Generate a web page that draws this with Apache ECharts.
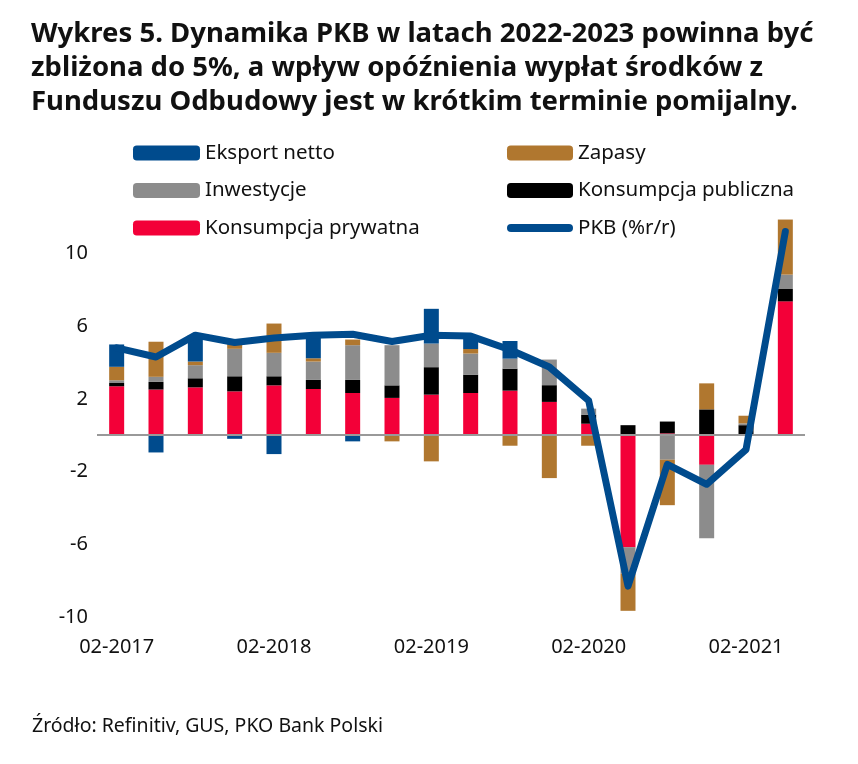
<!DOCTYPE html>
<html>
<head>
<meta charset="utf-8">
<script src="https://cdn.jsdelivr.net/npm/echarts@6/dist/echarts.min.js"></script>
<style>
  html, body { margin: 0; padding: 0; background: #fff; }
  #chart { width: 858px; height: 764px; }
</style>
</head>
<body>
<div id="chart"></div>
<script>
const categories = ['02-2017','05-2017','08-2017','11-2017','02-2018','05-2018','08-2018','11-2018',
  '02-2019','05-2019','08-2019','11-2019','02-2020','05-2020','08-2020','11-2020','02-2021','05-2021'];
const konsPrywatna = [2.69, 2.51, 2.63, 2.41, 2.74, 2.54, 2.32, 2.05, 2.23, 2.32, 2.45, 1.83, 0.63, -6.16, 0.1, -1.63, 0, 7.36];
const konsPubliczna = [0.18, 0.42, 0.5, 0.83, 0.5, 0.5, 0.72, 0.69, 1.51, 1.01, 1.21, 0.92, 0.5, 0.55, 0.65, 1.42, 0.55, 0.68];
const inwestycje = [0.15, 0.28, 0.72, 1.51, 1.29, 1.01, 1.91, 2.21, 1.30, 1.16, 0.55, 1.41, 0.33, -1.45, -1.35, -4.04, 0.1, 0.79];
const zapasy = [0.74, 1.93, 0.2, 0.51, 1.61, 0.18, 0.31, -0.34, -1.44, 0.25, -0.58, -2.36, -0.58, -2.05, -2.5, 1.43, 0.42, 3.03];
const eksportNetto = [1.23, -0.95, 1.45, -0.2, -1.04, 1.21, -0.34, 0, 1.91, 0.7, 0.97, 0, 0, 0, 0, 0, 0, 0];
const pkb = [4.8, 4.3, 5.5, 5.1, 5.35, 5.5, 5.55, 5.15, 5.5, 5.45, 4.7, 3.75, 1.9, -8.3, -1.6, -2.7, -0.8, 11.2];

const FONT = 'Noto Sans';
const chart = echarts.init(document.getElementById('chart'));

function barSeries(name, data, color) {
  return {
    name: name, type: 'bar', stack: 'total', data: data,
    barWidth: 15, itemStyle: { color: color }, animation: false
  };
}

const legendText = { fontFamily: FONT, fontSize: 20.5, color: '#111', lineHeight: 22 };

chart.setOption({
  animation: false,
  backgroundColor: '#fff',
  title: {
    text: 'Wykres 5. Dynamika PKB w latach 2022-2023 powinna być\nzbliżona do 5%, a wpływ opóźnienia wypłat środków z\nFunduszu Odbudowy jest w krótkim terminie pomijalny.',
    left: 31, top: 17, padding: 0,
    textStyle: { fontFamily: FONT, fontWeight: 'bold', fontSize: 27.5, lineHeight: 34, color: '#111' }
  },
  legend: [
    {
      orient: 'vertical', left: 133, top: 142, padding: 0, itemWidth: 67, itemHeight: 15, itemGap: 15.5,
      data: ['Eksport netto', 'Inwestycje', 'Konsumpcja prywatna'],
      textStyle: legendText, selectedMode: false
    },
    {
      orient: 'vertical', left: 507, top: 142, padding: 0, itemWidth: 66, itemHeight: 15, itemGap: 15.5,
      data: ['Zapasy', 'Konsumpcja publiczna'],
      textStyle: legendText, selectedMode: false
    },
    {
      orient: 'vertical', left: 507, top: 217, padding: 0, itemWidth: 66, itemHeight: 8,
      icon: 'path://M4,0H62A4,4,0,0,1,62,8H4A4,4,0,0,1,4,0Z',
      data: ['PKB (%r/r)'],
      textStyle: legendText, selectedMode: false
    }
  ],
  graphic: [
    {
      type: 'text', left: 32, top: 716,
      style: { text: 'Źródło: Refinitiv, GUS, PKO Bank Polski', fontFamily: FONT, fontSize: 19.5, fill: '#111' }
    }
  ],
  grid: { left: 97, width: 708, top: 217, height: 400, containLabel: false },
  xAxis: {
    type: 'category', data: categories,
    axisLine: { show: false }, axisTick: { show: false },
    axisLabel: { interval: 3, margin: 20, fontFamily: FONT, fontSize: 20, color: '#111' }
  },
  yAxis: {
    type: 'value', min: -10, max: 12, interval: 4,
    splitLine: { show: false }, axisLine: { show: false }, axisTick: { show: false },
    axisLabel: {
      margin: 9, fontFamily: FONT, fontSize: 20, color: '#111',
      formatter: function (v) { return v === 12 ? '' : String(v); }
    }
  },
  series: [
    Object.assign(barSeries('Konsumpcja prywatna', konsPrywatna, '#f30038'), {
      markLine: {
        silent: true, symbol: ['none', 'none'], label: { show: false },
        lineStyle: { color: '#999', width: 2, type: 'solid' },
        data: [{ yAxis: 0 }]
      }
    }),
    barSeries('Konsumpcja publiczna', konsPubliczna, '#000000'),
    barSeries('Inwestycje', inwestycje, '#8c8c8c'),
    barSeries('Zapasy', zapasy, '#b0772f'),
    barSeries('Eksport netto', eksportNetto, '#004b8d'),
    {
      name: 'PKB (%r/r)', type: 'line', data: pkb, z: 10,
      color: '#004b8d', symbol: 'none',
      lineStyle: { color: '#004b8d', width: 7, cap: 'round', join: 'round' }
    }
  ]
});
</script>
</body>
</html>
